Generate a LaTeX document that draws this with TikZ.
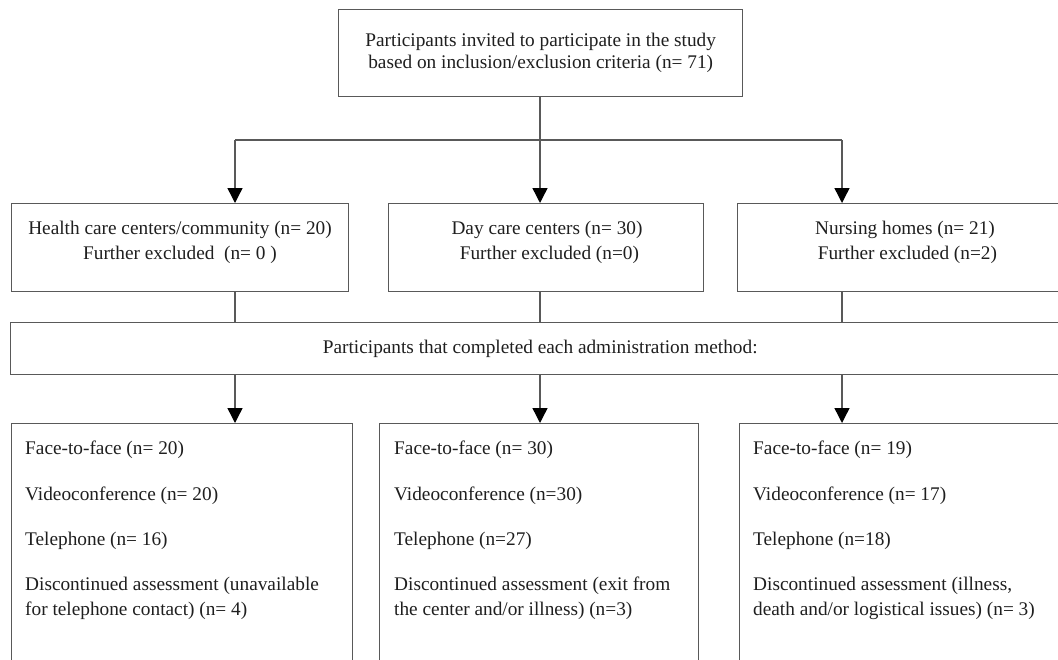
\documentclass[tikz,border=0pt]{standalone}
\usepackage{fontspec}
\setmainfont{Liberation Serif}
\usetikzlibrary{arrows.meta}
\begin{document}
\begin{tikzpicture}[x=1pt,y=-1pt,
  box/.style={draw=black!65, line width=1.4pt, inner sep=0pt, anchor=north west},
  txt/.style={font=\fontsize{19.3}{25}\selectfont, text=black!88, inner sep=0pt, align=center},
  ltxt/.style={font=\fontsize{19.3}{25}\selectfont, text=black!88, inner sep=0pt, anchor=west, align=left},
  conn/.style={draw=black!65, line width=1.4pt},
  arr/.style={conn, -{Triangle[width=15pt,length=15pt,color=black,fill=black]}}]
\clip (0,0) rectangle (1058,659);
\fill[white] (0,0) rectangle (1058,659);
% top box
\node[box, minimum width=404pt, minimum height=87pt, align=center,
      font=\fontsize{19.3}{22}\selectfont, text=black!88] (top) at (338,9)
  {Participants invited to participate in the study\\based on inclusion/exclusion criteria (n= 71)};
% middle boxes
\node[box, minimum width=337pt, minimum height=88pt] (hc) at (11,203) {};
\node[box, minimum width=315pt, minimum height=88pt] (day) at (388,203) {};
\node[box, minimum width=332pt, minimum height=88pt] (nur) at (737,203) {};
\node[txt] (hctxt) at (180,242.5) {Health care centers/community (n= 20)\\Further excluded\ \ (n= 0 )};
\node[txt] (daytxt) at (547,242.5) {Day care centers (n= 30)\\\ Further excluded (n=0)};
\node[txt] (nurtxt) at (905,242.5) {Nursing homes (n= 21)\\\ Further excluded (n=2)};
% wide box
\node[box, minimum width=1059pt, minimum height=52pt, font=\fontsize{19.3}{25}\selectfont, text=black!88] (wide) at (10,322)
  {Participants that completed each administration method:};
% bottom boxes
\node[box, minimum width=341pt, minimum height=300pt] (b1) at (11,423) {};
\node[box, minimum width=319pt, minimum height=300pt] (b2) at (379,423) {};
\node[box, minimum width=330pt, minimum height=300pt] (b3) at (739,423) {};
% bottom texts
\node[ltxt] (b1a) at (25,450) {Face-to-face (n= 20)};
\node[ltxt] (b1b) at (25,496) {Videoconference (n= 20)};
\node[ltxt] (b1c) at (25,541) {Telephone (n= 16)};
\node[ltxt] (b1d) at (25,598.5) {Discontinued assessment (unavailable\\for telephone contact) (n= 4)};
\node[ltxt] (b2a) at (394,450) {Face-to-face (n= 30)};
\node[ltxt] (b2b) at (394,496) {Videoconference (n=30)};
\node[ltxt] (b2c) at (394,541) {Telephone (n=27)};
\node[ltxt] (b2d) at (394,598.5) {Discontinued assessment (exit from\\the center and/or illness) (n=3)};
\node[ltxt] (b3a) at (753,450) {Face-to-face (n= 19)};
\node[ltxt] (b3b) at (753,496) {Videoconference (n= 17)};
\node[ltxt] (b3c) at (753,541) {Telephone (n=18)};
\node[ltxt] (b3d) at (753,598.5) {Discontinued assessment (illness,\\death and/or logistical issues) (n= 3)};
% connectors
\coordinate (s1) at (235,140);
\coordinate (s2) at (540,140);
\coordinate (s3) at (842,140);
\draw[conn] (s2 |- top.south) -- (s2);
\draw[conn] (s1) -- (s3);
\draw[arr] (s1) -- (s1 |- hc.north);
\draw[arr] (s2) -- (s2 |- day.north);
\draw[arr] (s3) -- (s3 |- nur.north);
\draw[conn] (s1 |- hc.south) -- (s1 |- wide.north);
\draw[conn] (s2 |- day.south) -- (s2 |- wide.north);
\draw[conn] (s3 |- nur.south) -- (s3 |- wide.north);
\draw[arr] (s1 |- wide.south) -- (s1 |- b1.north);
\draw[arr] (s2 |- wide.south) -- (s2 |- b2.north);
\draw[arr] (s3 |- wide.south) -- (s3 |- b3.north);
\end{tikzpicture}
\end{document}
